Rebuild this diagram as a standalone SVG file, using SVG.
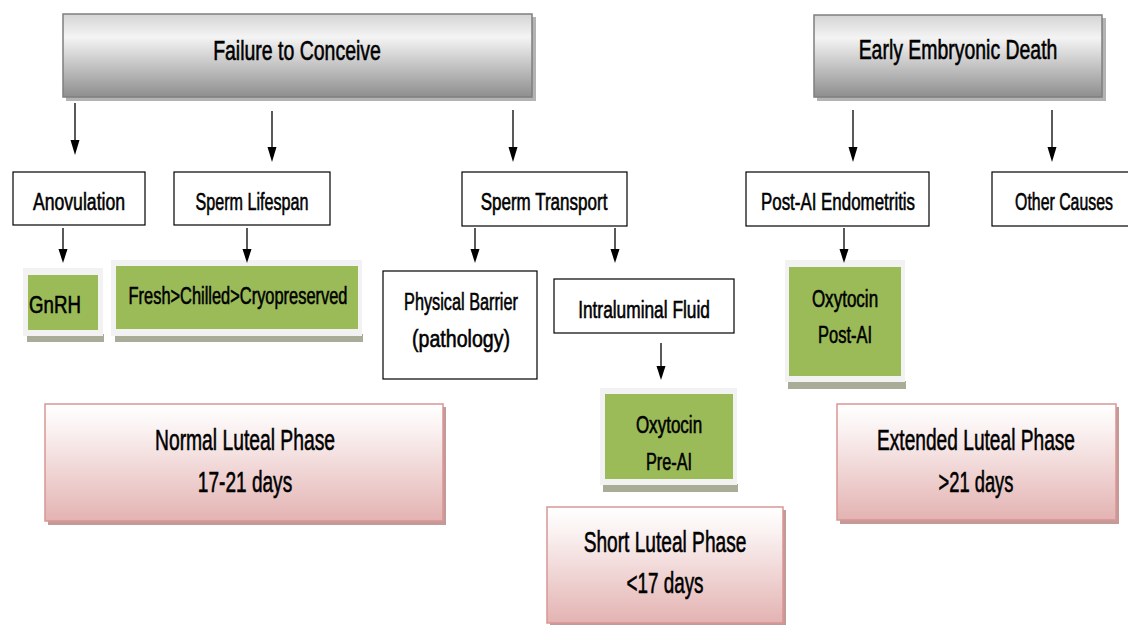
<svg xmlns="http://www.w3.org/2000/svg" width="1128" height="625" viewBox="0 0 1128 625">
<defs>
<linearGradient id="gGray" x1="0" y1="0" x2="0" y2="1">
<stop offset="0" stop-color="#d4d4d4"/>
<stop offset="0.28" stop-color="#f4f4f4"/>
<stop offset="1" stop-color="#8e8e8e"/>
</linearGradient>
<linearGradient id="gPink" x1="0" y1="0" x2="0" y2="1">
<stop offset="0" stop-color="#ffffff"/>
<stop offset="0.2" stop-color="#fbf3f3"/>
<stop offset="1" stop-color="#e3b3b2"/>
</linearGradient>
</defs>
<style>
text{font-family:"Liberation Sans",Arial,sans-serif;fill:#000;stroke:#000;stroke-width:0.6;text-anchor:middle}
.t1{font-size:28px}
.t2{font-size:24px}
.t3{font-size:30px}
.hdr{fill:url(#gGray);stroke:#7f7f7f;stroke-width:1.5}
.hsh{fill:#b3b3b3}
.wb{fill:#fff;stroke:#000;stroke-width:1.2}
.halo{fill:#f2f2f2}
.gsh{fill:#a9ad98}
.grn{fill:#9bbb59}
.pk{fill:url(#gPink);stroke:#d99694;stroke-width:1.5}
.psh{fill:#c49a99}
.ln{stroke:#000;stroke-width:1.3;fill:none}
.ah{fill:#000}
</style>
<rect width="1128" height="625" fill="#fff"/>

<g id="failure">
<rect class="hsh" x="66" y="17" width="470" height="84"/>
<rect class="hdr" x="63" y="14" width="469" height="83"/>
<text class="t1" transform="translate(297,60) scale(0.72,1)" textLength="233" lengthAdjust="spacingAndGlyphs">Failure to Conceive</text>
</g>
<g id="early">
<rect class="hsh" x="817" y="18" width="289" height="83"/>
<rect class="hdr" x="814" y="15" width="288" height="82"/>
<text class="t1" transform="translate(958,59) scale(0.72,1)" textLength="276" lengthAdjust="spacingAndGlyphs">Early Embryonic Death</text>
</g>

<g id="anovulation">
<rect class="wb" x="13" y="172" width="132" height="53"/>
<text class="t2" transform="translate(79,210) scale(0.72,1)" textLength="128" lengthAdjust="spacingAndGlyphs">Anovulation</text>
</g>
<g id="lifespan">
<rect class="wb" x="174" y="172" width="156" height="53"/>
<text class="t2" transform="translate(252,210) scale(0.72,1)" textLength="157" lengthAdjust="spacingAndGlyphs">Sperm Lifespan</text>
</g>
<g id="transport">
<rect class="wb" x="462" y="172" width="165" height="54"/>
<text class="t2" transform="translate(544,210) scale(0.72,1)" textLength="176" lengthAdjust="spacingAndGlyphs">Sperm Transport</text>
</g>
<g id="endometritis">
<rect class="wb" x="746" y="172" width="183" height="54"/>
<text class="t2" transform="translate(838,210) scale(0.72,1)" textLength="214" lengthAdjust="spacingAndGlyphs">Post-AI Endometritis</text>
</g>
<g id="other">
<rect class="wb" x="992" y="172" width="140" height="54"/>
<text class="t2" transform="translate(1064,210) scale(0.72,1)" textLength="136" lengthAdjust="spacingAndGlyphs">Other Causes</text>
</g>

<g id="gnrh">
<rect class="gsh" x="27" y="334" width="77" height="8"/>
<rect class="halo" x="23" y="268" width="80" height="68"/>
<rect class="grn" x="28" y="275" width="70" height="55"/>
<text class="t2" transform="translate(55,313) scale(0.72,1)" textLength="72" lengthAdjust="spacingAndGlyphs">GnRH</text>
</g>
<g id="fresh">
<rect class="gsh" x="115" y="334" width="248" height="8"/>
<rect class="halo" x="111" y="260" width="251" height="76"/>
<rect class="grn" x="116" y="266" width="242" height="63"/>
<text class="t2" transform="translate(238,304) scale(0.72,1)" textLength="304" lengthAdjust="spacingAndGlyphs">Fresh&gt;Chilled&gt;Cryopreserved</text>
</g>

<g id="barrier">
<rect class="wb" x="383" y="271" width="154" height="108"/>
<text class="t2" transform="translate(461,310) scale(0.72,1)" textLength="158" lengthAdjust="spacingAndGlyphs">Physical Barrier</text>
<text class="t2" transform="translate(461,347) scale(0.72,1)" textLength="136" lengthAdjust="spacingAndGlyphs">(pathology)</text>
</g>
<g id="intraluminal">
<rect class="wb" x="554" y="279" width="180" height="54"/>
<text class="t2" transform="translate(644,318) scale(0.72,1)" textLength="183" lengthAdjust="spacingAndGlyphs">Intraluminal Fluid</text>
</g>

<g id="oxypre">
<rect class="gsh" x="603" y="484" width="135" height="8"/>
<rect class="halo" x="600" y="388" width="137" height="97"/>
<rect class="grn" x="605" y="394" width="128" height="85"/>
<text class="t2" transform="translate(669,433) scale(0.72,1)" textLength="92" lengthAdjust="spacingAndGlyphs">Oxytocin</text>
<text class="t2" transform="translate(669,470) scale(0.72,1)" textLength="64" lengthAdjust="spacingAndGlyphs">Pre-AI</text>
</g>
<g id="oxypost">
<rect class="gsh" x="788" y="381" width="118" height="8"/>
<rect class="halo" x="785" y="260" width="120" height="122"/>
<rect class="grn" x="789" y="267" width="112" height="109"/>
<text class="t2" transform="translate(845,307) scale(0.72,1)" textLength="92" lengthAdjust="spacingAndGlyphs">Oxytocin</text>
<text class="t2" transform="translate(845,343) scale(0.72,1)" textLength="75" lengthAdjust="spacingAndGlyphs">Post-AI</text>
</g>

<g id="normal">
<rect class="psh" x="48" y="407" width="398" height="118"/>
<rect class="pk" x="45" y="404" width="398" height="117"/>
<text class="t3" transform="translate(245,450) scale(0.72,1)" textLength="250" lengthAdjust="spacingAndGlyphs">Normal Luteal Phase</text>
<text class="t3" transform="translate(245,492) scale(0.72,1)" textLength="131" lengthAdjust="spacingAndGlyphs">17-21 days</text>
</g>
<g id="short">
<rect class="psh" x="550" y="510" width="236" height="117"/>
<rect class="pk" x="547" y="507" width="236" height="116"/>
<text class="t3" transform="translate(665,552) scale(0.72,1)" textLength="226" lengthAdjust="spacingAndGlyphs">Short Luteal Phase</text>
<text class="t3" transform="translate(665,593) scale(0.72,1)" textLength="107" lengthAdjust="spacingAndGlyphs">&lt;17 days</text>
</g>
<g id="extended">
<rect class="psh" x="840" y="407" width="279" height="117"/>
<rect class="pk" x="837" y="404" width="279" height="116"/>
<text class="t3" transform="translate(976,450) scale(0.72,1)" textLength="275" lengthAdjust="spacingAndGlyphs">Extended Luteal Phase</text>
<text class="t3" transform="translate(976,492) scale(0.72,1)" textLength="104" lengthAdjust="spacingAndGlyphs">&gt;21 days</text>
</g>

<g id="connectors">
<line class="ln" x1="75" y1="103" x2="75" y2="142"/>
<path class="ah" d="M70.5,140 L79.5,140 L75,155 Z"/>
<line class="ln" x1="272" y1="111" x2="272" y2="149"/>
<path class="ah" d="M267.5,147 L276.5,147 L272,162 Z"/>
<line class="ln" x1="513" y1="110" x2="513" y2="149"/>
<path class="ah" d="M508.5,147 L517.5,147 L513,162 Z"/>
<line class="ln" x1="853" y1="110" x2="853" y2="149"/>
<path class="ah" d="M848.5,147 L857.5,147 L853,162 Z"/>
<line class="ln" x1="1052" y1="110" x2="1052" y2="149"/>
<path class="ah" d="M1047.5,147 L1056.5,147 L1052,162 Z"/>

<line class="ln" x1="63" y1="228" x2="63" y2="251"/>
<path class="ah" d="M58.5,249 L67.5,249 L63,263 Z"/>
<line class="ln" x1="247" y1="228" x2="247" y2="251"/>
<path class="ah" d="M242.5,249 L251.5,249 L247,263 Z"/>
<line class="ln" x1="475" y1="228" x2="475" y2="251"/>
<path class="ah" d="M470.5,249 L479.5,249 L475,263 Z"/>
<line class="ln" x1="615" y1="228" x2="615" y2="251"/>
<path class="ah" d="M610.5,249 L619.5,249 L615,263 Z"/>
<line class="ln" x1="844" y1="228" x2="844" y2="251"/>
<path class="ah" d="M839.5,249 L848.5,249 L844,263 Z"/>
<line class="ln" x1="661" y1="343" x2="661" y2="368"/>
<path class="ah" d="M656.5,366 L665.5,366 L661,380 Z"/>
</g>
</svg>
